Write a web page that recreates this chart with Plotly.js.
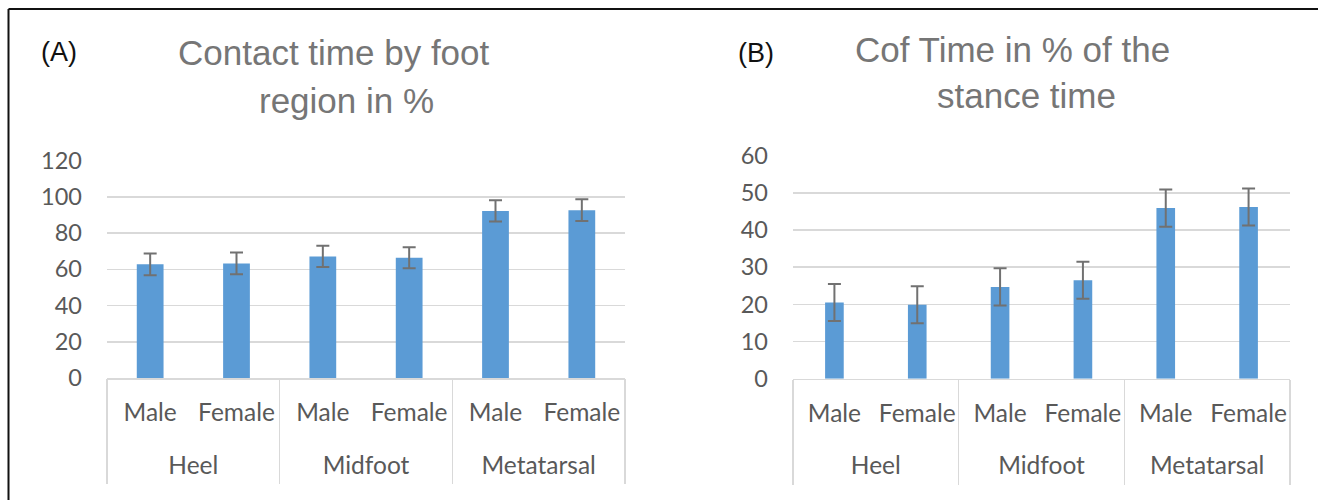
<!DOCTYPE html>
<html>
<head>
<meta charset="utf-8">
<script src="https://cdn.plot.ly/plotly-3.0.1.min.js"></script>
<style>html,body{margin:0;padding:0;background:#fff;}#chart{width:1318px;height:500px;}</style>
</head>
<body>
<div id="chart"></div>
<script>
// ---- data ----
const regions = ['Heel', 'Midfoot', 'Metatarsal'];
const sexes = ['Male', 'Female'];
const contactMean = [62.7, 63.2, 67.1, 66.4, 92.2, 92.6];
const contactErr  = [6.0, 6.0, 5.8, 5.8, 5.9, 6.0];
const cofMean = [20.5, 19.9, 24.7, 26.5, 45.9, 46.2];
const cofErr  = [5.0, 5.0, 5.0, 5.0, 5.0, 5.0];
const contactTicks = [0, 20, 40, 60, 80, 100, 120];
const cofTicks = [0, 10, 20, 30, 40, 50, 60];
const titleA = ['Contact time by foot', 'region in %'];
const titleB = ['Cof Time in % of the', 'stance time'];
const panelLabels = ['(A)', '(B)'];

// category positions derived from the arrays
const innerText = [], pos = [];
regions.forEach((r, i) => sexes.forEach((s, j) => { innerText.push(s); pos.push(i * sexes.length + j); }));
const groupCenters = regions.map((r, i) => i * sexes.length + (sexes.length - 1) / 2);
const groupBounds = [-0.5].concat(regions.map((r, i) => (i + 1) * sexes.length - 0.5));
const xRange = [-0.5, pos.length - 0.5];

const W = 1318, H = 500;
const px = v => v / W;
const py = v => 1 - v / H;

const BAR = '#5b9bd5';
const ERR = '#717171';
const GRID = '#d9d9d9';
const FONTFAM = 'Lato, Carlito, sans-serif';
const YFONT = {family: FONTFAM, size: 23.5, color: '#595959'};
const XFONT = {family: FONTFAM, size: 24.5, color: '#595959'};
const TFONT = {family: 'Liberation Sans, Arial, sans-serif', size: 35, color: '#767676'};
const LFONT = {family: 'Liberation Sans, Arial, sans-serif', size: 27, color: '#111'};

const errStyle = (arr) => ({type: 'data', array: arr, visible: true, color: ERR, thickness: 2, width: 6.5});

// invisible helper traces so the group-label and divider axes are drawn
const helper = (xs, xId, yId) => ({type: 'scatter', mode: 'markers', x: xs, y: xs.map(() => 0),
  marker: {opacity: 0, size: 1}, xaxis: xId, yaxis: yId, hoverinfo: 'skip', showlegend: false});

const traces = [
  {type: 'bar', x: pos, y: contactMean, error_y: errStyle(contactErr),
   marker: {color: BAR}, width: 0.31, xaxis: 'x', yaxis: 'y', hoverinfo: 'skip'},
  {type: 'bar', x: pos, y: cofMean, error_y: errStyle(cofErr),
   marker: {color: BAR}, width: 0.225, xaxis: 'x2', yaxis: 'y2', hoverinfo: 'skip'},
  helper(groupCenters, 'x3', 'y'), helper(groupBounds, 'x5', 'y'),
  helper(groupCenters, 'x4', 'y2'), helper(groupBounds, 'x6', 'y2')
];

function xAxes(dom, yId, mainId) {
  const main = {
    domain: dom, anchor: yId, range: xRange, showgrid: false, zeroline: false,
    showline: true, linecolor: GRID, linewidth: 1.5,
    tickmode: 'array', tickvals: pos, ticktext: innerText, ticks: '',
    ticklabelstandoff: 12, tickfont: XFONT, fixedrange: true
  };
  const groups = {
    overlaying: mainId, anchor: yId, range: xRange, showgrid: false, zeroline: false, showline: false,
    tickmode: 'array', tickvals: groupCenters, ticktext: regions, ticks: '',
    ticklabelstandoff: 70, tickfont: XFONT, fixedrange: true
  };
  const dividers = {
    overlaying: mainId, anchor: yId, range: xRange, showgrid: false, zeroline: false, showline: false,
    tickmode: 'array', tickvals: groupBounds, ticks: 'outside', ticklen: 105, tickwidth: 1.5,
    tickcolor: GRID, showticklabels: false, fixedrange: true
  };
  return [main, groups, dividers];
}
const [xa, xa3, xa5] = xAxes([px(107), px(625)], 'y', 'x');
const [xa2, xa4, xa6] = xAxes([px(793), px(1290)], 'y2', 'x2');

const yCommon = {
  showgrid: true, gridcolor: GRID, gridwidth: 1.5, zeroline: false, showline: false,
  tickfont: YFONT, ticks: '', ticklabelstandoff: 24, fixedrange: true, tickmode: 'array'
};

const layout = {
  width: W, height: H, margin: {l: 0, r: 0, t: 0, b: 0},
  paper_bgcolor: '#fff', plot_bgcolor: 'rgba(0,0,0,0)', showlegend: false,
  xaxis: xa, xaxis3: xa3, xaxis5: xa5,
  xaxis2: xa2, xaxis4: xa4, xaxis6: xa6,
  yaxis: Object.assign({}, yCommon, {domain: [py(378), py(160.5)], anchor: 'x', range: [0, 120], tickvals: contactTicks}),
  yaxis2: Object.assign({}, yCommon, {domain: [py(378.7), py(155.7)], anchor: 'x2', range: [0, 60], tickvals: cofTicks}),
  shapes: [
    {type: 'line', xref: 'paper', yref: 'paper', x0: px(8.5), x1: 1, y0: py(9), y1: py(9), line: {color: '#111', width: 2}},
    {type: 'line', xref: 'paper', yref: 'paper', x0: px(8.5), x1: px(8.5), y0: py(9), y1: 0, line: {color: '#111', width: 2}}
  ],
  annotations: [
    {text: titleA[0], x: px(333.5), y: py(53), font: TFONT},
    {text: titleA[1], x: px(346), y: py(101), font: TFONT},
    {text: titleB[0], x: px(1012.5), y: py(50), font: TFONT},
    {text: titleB[1], x: px(1026.5), y: py(96), font: TFONT},
    {text: panelLabels[0], x: px(39), y: py(52), xanchor: 'left', font: LFONT},
    {text: panelLabels[1], x: px(736), y: py(53), xanchor: 'left', font: LFONT}
  ].map(a => Object.assign({xref: 'paper', yref: 'paper', xanchor: 'center', yanchor: 'middle', showarrow: false}, a))
};

Plotly.newPlot('chart', traces, layout, {staticPlot: true, displayModeBar: false});
</script>
</body>
</html>
